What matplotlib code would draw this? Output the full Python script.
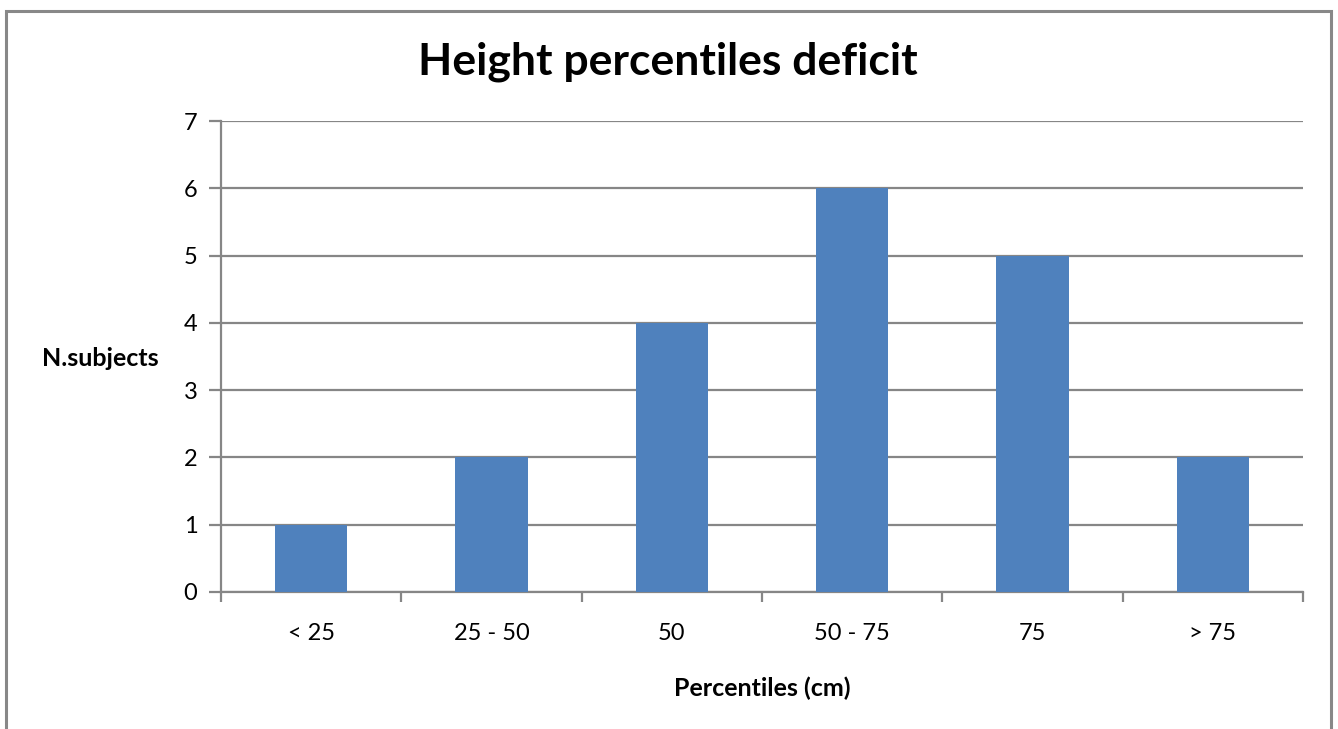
import matplotlib.pyplot as plt
from matplotlib.patches import Rectangle

categories = ["< 25", "25 - 50", "50", "50 - 75", "75", "> 75"]
subjects = [1, 2, 4, 6, 5, 2]

plt.rcParams['font.family'] = ['Lato', 'DejaVu Sans']

fig = plt.figure(figsize=(13.38, 7.29), dpi=100)
ax = fig.add_axes([221 / 1338, 1 - 592 / 729, (1303 - 221) / 1338, (592 - 121) / 729])

# outer chart frame, cut off at the bottom edge
fig.patches.append(Rectangle((5.5 / 1338, -0.05), (1331 - 5.5) / 1338, 1 - 10.5 / 729 + 0.05,
                             transform=fig.transFigure, fill=False,
                             edgecolor='#888888', linewidth=2.2))

x = list(range(len(categories)))
ax.bar(x, subjects, width=0.4, color='#4F81BD', zorder=3)

ax.set_xlim(-0.5, len(categories) - 0.5)
ax.set_ylim(0, 7)
ax.set_yticks(range(0, 8))
ax.yaxis.grid(True, color='#868686', linewidth=1.6, zorder=0)

# category boundaries carry the ticks, labels sit at the centres
ax.set_xticks([i - 0.5 for i in range(len(categories) + 1)])
ax.set_xticklabels([])
ax.set_xticks(x, minor=True)
ax.set_xticklabels(categories, minor=True)
ax.tick_params(axis='x', which='minor', length=0, pad=22, labelsize=17)
ax.tick_params(axis='x', which='major', length=7, width=1.6, color='#868686')
ax.tick_params(axis='y', length=9, width=1.6, color='#868686', labelsize=17, pad=8)

for side in ['top', 'right']:
    ax.spines[side].set_visible(False)
for side in ['left', 'bottom']:
    ax.spines[side].set_color('#868686')
    ax.spines[side].set_linewidth(1.6)

fig.text(668 / 1338, 1 - 62 / 729, "Height percentiles deficit", ha='center', va='center',
         fontsize=32, fontweight='bold')
fig.text(100 / 1338, 1 - 358 / 729, "N.subjects", ha='center', va='center',
         fontsize=18, fontweight='bold')
fig.text(762 / 1338, 1 - 688 / 729, "Percentiles (cm)", ha='center', va='center',
         fontsize=18, fontweight='bold')

fig.savefig('out.png', dpi=100)
